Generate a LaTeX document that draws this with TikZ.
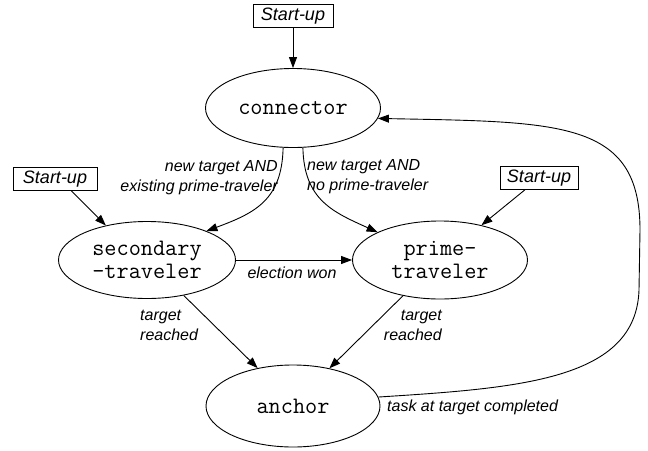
\documentclass[tikz,border=0pt]{standalone}
\usepackage{fontspec}
\setmainfont{Liberation Sans}
\usetikzlibrary{arrows.meta,shapes.geometric}
\tikzset{
  state/.style={draw, ellipse, line width=0.9pt, inner sep=0pt, align=center,
    font=\ttfamily\fontsize{23.6}{23}\selectfont},
  startbox/.style={draw, rectangle, line width=0.9pt, inner sep=0pt,
    minimum width=80pt, minimum height=23pt,
    font=\fontsize{18}{20}\selectfont\itshape},
  lbl/.style={inner sep=0pt, font=\fontsize{16}{20}\selectfont\itshape},
  conn/.style={draw, line width=0.9pt, -{Triangle[length=11pt,width=8pt]}},
}
\begin{document}
\begin{tikzpicture}[x=1pt,y=-1pt]
\useasboundingbox (0,0) rectangle (648,450);
\node[state, minimum width=175pt, minimum height=79pt] (c) at (293,108) {connector};
\node[state, minimum width=177pt, minimum height=77pt] (s) at (147,260) {secondary\\-traveler};
\node[state, minimum width=175pt, minimum height=78pt] (p) at (440,260) {prime-\\traveler};
\node[state, minimum width=174pt, minimum height=82pt] (a) at (293,406) {anchor};
\node[startbox] (s1) at (293,16) {Start-up};
\node[startbox, minimum width=84pt] (s2) at (55,179) {Start-up};
\node[startbox, minimum width=78pt] (s3) at (539,178) {Start-up};

\draw[conn] (s1) -- (c);
\draw[conn] (s2.-36) -- (s.140);
\draw[conn] (s3.220) -- (p.40);
\draw[conn] (c.256) .. controls (282,200) and (255,213) .. (s.26);
\draw[conn] (c.284) .. controls (304,200) and (333,212) .. (p.156);
\draw[conn] (s.east) -- (p.west);
\draw[conn] (s.-44) -- (a.133);
\draw[conn] (p.224) -- (a.46);
\coordinate (r1) at (639,290);
\coordinate (r2) at (640,230);
\draw[conn] (a.6) .. controls (520,388) and (636,380) .. (r1) -- (r2)
  .. controls (640,120) and (560,122) .. (c.-7);

\node[lbl, align=right, anchor=east] (l1) at (278,178) {new target AND\\existing prime-traveler};
\node[lbl, align=left, anchor=west] (l2) at (307,177) {new target AND\\no prime-traveler};
\node[lbl] (l3) at (292,273) {election won};
\node[lbl, align=left, anchor=west] (l4) at (140,325) {target\\reached};
\node[lbl, align=right, anchor=east] (l5) at (442,325) {target\\reached};
\node[lbl, anchor=west] (l6) at (387,407) {task at target completed};
\end{tikzpicture}
\end{document}
